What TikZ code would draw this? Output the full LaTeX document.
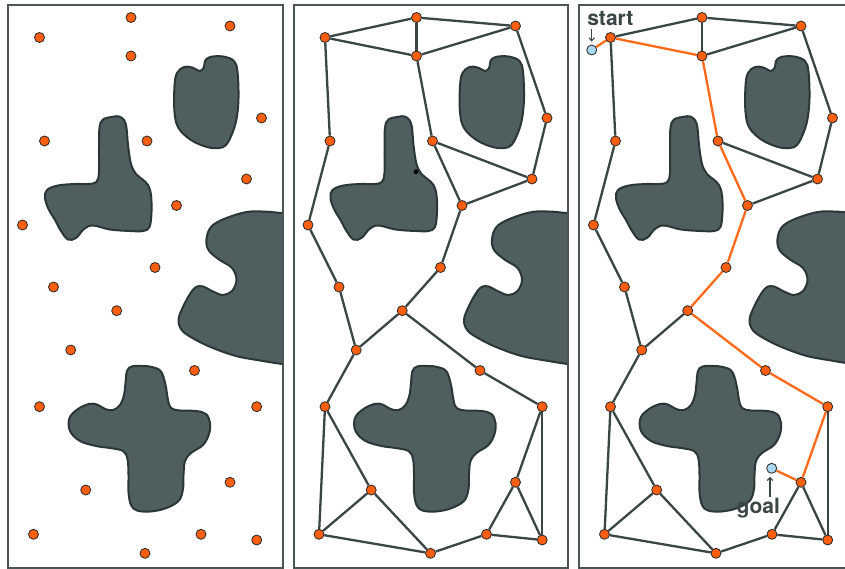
\documentclass[tikz,border=0pt]{standalone}
\usepackage{fontspec}
\setsansfont{TeX Gyre Heros}
\usetikzlibrary{arrows.meta}
\pgfdeclarelayer{bg}
\pgfsetlayers{bg,main}
\definecolor{obst}{HTML}{4F5F60}
\definecolor{obstline}{HTML}{2B3636}
\definecolor{edgec}{HTML}{3A4545}
\definecolor{framec}{HTML}{4A5555}
\definecolor{nodeor}{HTML}{FF5F0F}
\definecolor{pathor}{HTML}{FF6A1A}
\definecolor{ptblue}{HTML}{A8D8F0}
\newcommand\drawobstacles{%
  \draw[obstacle] plot[smooth cycle, tension=0.6] coordinates {
    (200,71) (192,67.5) (184,67) (177,73) (174.5,86) (174.5,112) (178.5,128)
    (191,140) (207,147) (219,148) (226,145) (232,134) (236.5,119) (238.5,98)
    (237.5,72) (234,61) (223,56.5) (210,57) (205,61) (204,67)};
  \draw[obstacle] plot[smooth cycle, tension=0.6] coordinates {
    (113.3,116.7) (103,119.5) (99.5,128) (99,150) (99,172) (96.5,182) (88,184)
    (75,184) (58,185.5) (47,190) (45,198) (48.5,209) (55,220) (61,231) (68,239.5)
    (76,238) (84,229) (93,225.5) (110,229.5) (130,231) (143,231) (149.5,227)
    (151.5,212) (151,195) (148,185) (142,179) (136,174) (131,164) (128,145)
    (126.5,128) (124,120) (119,116.5)};
  \draw[obstacle] plot[smooth, tension=0.6] coordinates {
    (295,212) (281.7,213) (266.7,211.7) (246.7,212) (224,219) (211,227) (206.5,239)
    (208.5,250) (219,259.5) (232,268) (236.5,280) (232,291) (223,295) (213,291.5)
    (203,286.5) (196,287) (190,294) (183,307) (178.5,320) (182.5,331) (196,340)
    (213,348) (236,356) (260,360.5) (282,364) (295,365)} -- cycle;
  \draw[obstacle] plot[smooth cycle, tension=0.6] coordinates {
    (131.7,366.5) (142,366) (152,367) (161,371.5) (165.5,385) (168,400) (171,408)
    (180,410.5) (196,411) (206,414) (210,423) (209,434) (203,445) (191,453)
    (185,461) (183.5,475) (183,489) (178.5,501) (165,508.5) (150,511.5)
    (137,510.5) (131,505) (128.5,492) (128.5,475) (127.5,459) (123,451) (110,448)
    (96,446) (80,441) (70,431) (69.5,418) (78,409) (89,404) (97,404.5) (105,409)
    (113,410) (120,405) (124,395) (125.5,383) (127,371)};
}
\def\nodelist{A/39.5/37.5, B/131/17.5, C/230/26, D/131/56, E/261.5/118,
  F/44.5/141, G/147/141, H/246.5/179, I/176.5/205.5, J/22.5/225, K/155/267.5,
  L/53.5/287, M/116.7/310.7, N/70.7/350, O/194.5/370.5, P/39.5/406.7,
  Q/256.7/406.7, R/85.7/490, S/230/482.3, T/33.5/534.3, U/201/534.3,
  V/256.7/540, W/145/553.3}
\begin{document}
\begin{tikzpicture}[x=1pt,y=-1pt,
  obstacle/.style={fill=obst, draw=obstline, line width=2pt, line join=round},
  wp/.style={circle, fill=nodeor, draw=black!85, line width=0.8pt,
    minimum size=10pt, inner sep=0pt},
  endpt/.style={wp, fill=ptblue},
  blackdot/.style={circle, fill=black, minimum size=5pt, inner sep=0pt},
  edge/.style={draw=edgec, line width=2.3pt},
  pathedge/.style={draw=pathor, line width=2.3pt},
  panelframe/.style={draw=framec, line width=2pt},
  lbl/.style={font=\sffamily\bfseries\fontsize{21}{24}\selectfont, text=edgec,
    inner sep=0pt},
  lblarrow/.style={draw=edgec, line width=1.1pt,
    -{Straight Barb[length=3pt,width=5.5pt]}},
]
\useasboundingbox (0,0) rectangle (845,569);
\clip (0,0) rectangle (845,569);
% background and obstacles
\begin{pgfonlayer}{bg}
\fill[white] (0,0) rectangle (845,569);
\foreach \dx in {0,285.5,571}{
  \begin{scope}[xshift=\dx pt]
    \clip (8.3,5) rectangle (282.7,568);
    \drawobstacles
  \end{scope}
}
\end{pgfonlayer}
% waypoints
\foreach \p/\dx in {1/0,2/285.5,3/571}{
  \foreach \n/\x/\y in \nodelist {
    \node[wp] (p\p\n) at (\x+\dx,\y) {};
  }
}
\node[endpt] (start) at (591.7,50) {};
\node[endpt] (goal) at (771.7,468.3) {};
\node[blackdot] (dot) at (416,171.7) {};
% edges
\begin{pgfonlayer}{bg}
\foreach \a/\b in {A/B, A/D, B/D, B/C, D/C, C/E, A/F, D/G, E/H, G/H, G/I, H/I,
  F/J, I/K, J/L, K/M, L/N, M/N, M/O, O/Q, N/P, P/T, P/R, R/T, R/W, T/W, W/U,
  U/S, S/V, Q/S, Q/V, U/V}{
  \draw[edge] (p2\a) -- (p2\b);
}
\foreach \a/\b in {A/B, B/D, B/C, D/C, C/E, A/F, E/H, G/H, H/I,
  F/J, J/L, L/N, M/N, N/P, P/T, P/R, R/T, R/W, T/W, W/U,
  U/S, S/V, Q/V, U/V}{
  \draw[edge] (p3\a) -- (p3\b);
}
\draw[pathedge] (start) -- (p3A) -- (p3D) -- (p3G) -- (p3I) -- (p3K) -- (p3M)
  -- (p3O) -- (p3Q) -- (p3S) -- (goal);
\end{pgfonlayer}
% frames
\foreach \dx in {0,285.5,571}{
  \draw[panelframe] (8.3+\dx,5) rectangle (282.7+\dx,568);
}
% labels
\node[lbl, anchor=base] (startlbl) at (610.3,26) {start};
\coordinate (startarrow) at (591.7,29.5);
\draw[lblarrow, shorten >=3pt] (startarrow) -- (start);
\node[lbl, anchor=base] (goallbl) at (758.3,513.3) {goal};
\coordinate (goalarrow) at (770,497);
\draw[lblarrow, shorten >=3pt] (goalarrow) -- (goalarrow |- goal.south);
\end{tikzpicture}
\end{document}
